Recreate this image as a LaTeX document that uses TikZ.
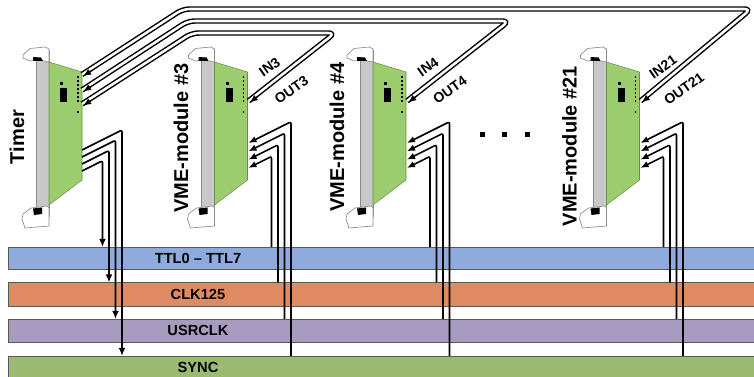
\documentclass[tikz,border=0pt]{standalone}
\usepackage{fontspec}
\setmainfont{Liberation Sans}
\usetikzlibrary{arrows.meta,positioning,calc}
\definecolor{board}{HTML}{9BCD6E}
\definecolor{panel}{HTML}{C8C8C8}
\definecolor{ttlbus}{HTML}{8FAADC}
\definecolor{clkbus}{HTML}{E08A64}
\definecolor{usrbus}{HTML}{A89BC0}
\definecolor{syncbus}{HTML}{9BBB73}

\begin{document}
\begin{tikzpicture}[x=0.75pt,y=0.75pt,yscale=-1,xscale=1,
  bus/.style={draw=black!65, line width=0.6pt},
  buslbl/.style={font=\bfseries\fontsize{11}{13}\selectfont, inner sep=0.75pt},
  wire/.style={line width=1.2pt, rounded corners=1.5pt},
  cable/.style={double=white, double distance=1.9pt, line width=1.1pt, rounded corners=5pt},
  tip/.style={-{Latex[length=6pt,width=5pt]}},
  handle/.style={fill=white, draw=black!45, line width=0.5pt},
  cardlbl/.style={font=\bfseries\fontsize{15}{18}\selectfont, rotate=90, inner sep=0pt},
  portlbl/.style={font=\bfseries\fontsize{10.5}{12}\selectfont, rotate=35, inner sep=0pt}]
\useasboundingbox (0,0) rectangle (754,377);

% Bus lines
\draw[bus, fill=ttlbus] (8,247) rectangle (760,269);
\draw[bus, fill=clkbus] (8,282.5) rectangle (760,306);
\draw[bus, fill=usrbus] (8,319) rectangle (760,342);
\draw[bus, fill=syncbus] (8,356) rectangle (760,385);
\node[buslbl] (ttl) at (198,258) {TTL0 -- TTL7};
\node[buslbl] (clk) at (198,294) {CLK125};
\node[buslbl] (usr) at (198,330.5) {USRCLK};
\node[buslbl] (sync) at (198,367) {SYNC};

% Cards
\foreach \x in {36,201.5,360,593.5}{
  \draw[fill=panel, draw=black!45] (\x,50) rectangle (\x+13,216);
  \draw[fill=board, draw=board!70!black, line width=0.4pt] (\x+13,62) -- (\x+46,72) -- (\x+46,180) -- (\x+13,205) -- cycle;
  \fill (\x+24,82) rectangle (\x+27,85);
  \fill (\x+24,88) rectangle (\x+31,102);
  \foreach \d in {77,81,...,101} \fill (\x+41.2,\d-0.8) rectangle ++(1.6,1.6);
  \fill (\x+41.2,111.2) rectangle ++(1.6,1.6);
  % handles
  \draw[handle] (\x-13,55) -- (\x-6,48.5) -- (\x+9,47) -- (\x+13,49) -- (\x+13,62) -- (\x+2,60) -- (\x-6,61) -- (\x-13,58) -- cycle;
  \fill (\x-3,57) -- (\x+5,57.5) -- (\x+7,61) -- (\x-3,61) -- cycle;
  \draw[handle] (\x-13,214) -- (\x-5,208) -- (\x+11,206) -- (\x+13,208) -- (\x+13,226) -- (\x-11,228) -- (\x-14,219) -- cycle;
  \fill (\x-3,208.5) -- (\x+6,207.5) -- (\x+6,214) -- (\x-2,215) -- cycle;
}

% Card labels
\node[cardlbl] (lbltimer) at (17,137) {Timer};
\node[cardlbl] (lbl3) at (181,138) {VME-module \#3};
\node[cardlbl] (lbl4) at (337,137) {VME-module \#4};
\node[cardlbl] (lbl21) at (569.5,146) {VME-module \#21};

% Timer to bus
\foreach \k/\b in {0/356,1/319,2/282.5,3/247}{
  \coordinate (tp\k) at (82,150+7*\k);
  \coordinate (tv\k) at ({122-6.5*\k},{150+7*\k-0.5*(40-6.5*\k)});
  \draw[wire, tip] (tp\k) -- (tv\k) -- ({122-6.5*\k},\b);
}

% Bus to modules
\foreach \x in {201.5,360,593.5}{
  \foreach \k/\b in {0/356,1/319,2/282.5,3/247}{
    \draw[wire, tip] ({\x+89.5-6.5*\k},\b) -- ({\x+89.5-6.5*\k},{143+8.3*\k-0.5*(42.5-6.5*\k)}) -- (\x+47,{143+8.3*\k});
  }
}

% Timer ports and module ports
\coordinate (t21) at (82,74.5);
\coordinate (t4) at (82,90);
\coordinate (t3) at (82,104);
\coordinate (p3) at (248.5,101);
\coordinate (p4) at (407,101);
\coordinate (p21) at (640.5,101);
\coordinate (h3) at (335,33);
\coordinate (h4) at (509,21);
\coordinate (h21) at (751,9);
\coordinate (c3) at (192,33);
\coordinate (c4) at (188,21);
\coordinate (c21) at (183,9);

% IN / OUT cables
\foreach \m in {3,4,21}{
  \draw[cable] (p\m) -- (h\m) -- (c\m) -- (t\m);
  \coordinate (in\m) at ($(p\m)!1.5pt!90:(h\m)$);
  \coordinate (inb\m) at ($(h\m)!1.5pt!-90:(p\m)$);
  \draw[line width=1.1pt, tip] ($(in\m)!7pt!(inb\m)$) -- (in\m);
  \coordinate (out\m) at ($(t\m)!1.5pt!90:(c\m)$);
  \coordinate (outb\m) at ($(c\m)!1.5pt!-90:(t\m)$);
  \draw[line width=1.1pt, tip] ($(out\m)!7pt!(outb\m)$) -- (out\m);
}

% Port labels
\node[portlbl] (in3l) at (269.5,67) {IN3};
\node[portlbl] (out3l) at (291.5,90) {OUT3};
\node[portlbl] (in4l) at (428,67) {IN4};
\node[portlbl] (out4l) at (450,90) {OUT4};
\node[portlbl] (in21l) at (663,67) {IN21};
\node[portlbl] (out21l) at (684,89) {OUT21};

% dots
\foreach \d in {482,504.5,527} \fill (\d-2.5,132.5) rectangle ++(5,5);

\end{tikzpicture}
\end{document}
